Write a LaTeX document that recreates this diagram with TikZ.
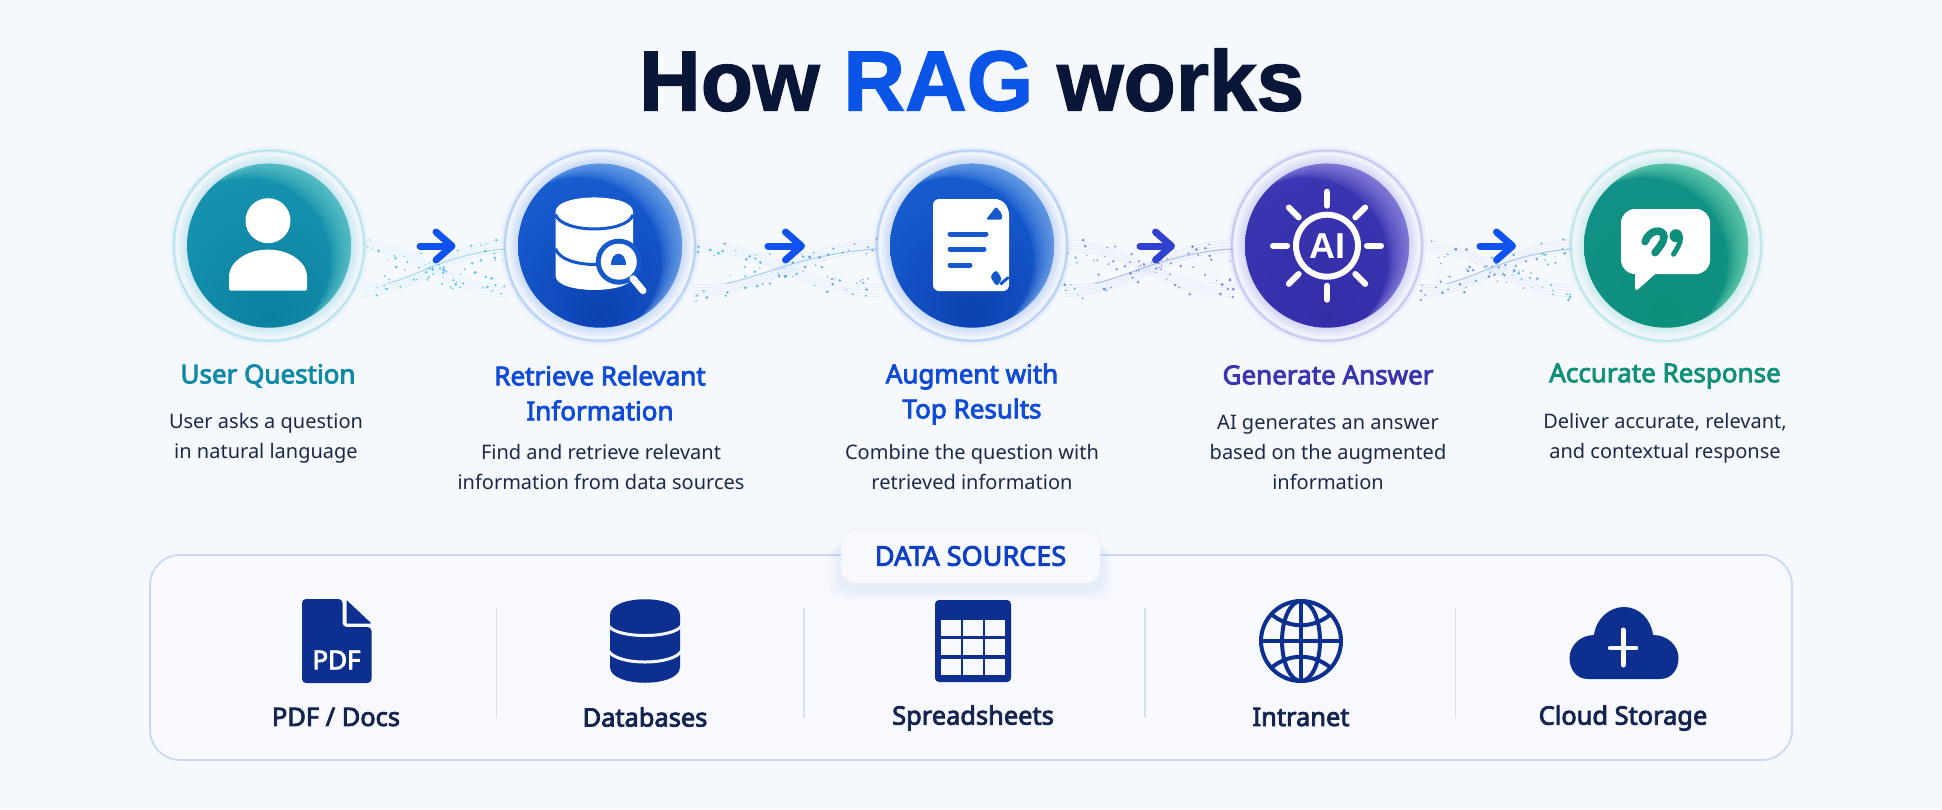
\documentclass[tikz,border=0pt]{standalone}
\usepackage{fontspec}
\setmainfont{Noto Sans}
\newfontfamily\titlefont[FakeBold=1.6]{Liberation Sans}
\newfontfamily\plainbold{Liberation Sans}
\newfontfamily\semifont[FakeBold=3.2]{Noto Sans}
\usetikzlibrary{calc,arrows.meta,backgrounds}

\definecolor{pagebg}{HTML}{F5F8FD}
\definecolor{panelbg}{HTML}{F7F9FE}
\definecolor{panelline}{HTML}{CBD8F2}
\definecolor{sepline}{HTML}{D6E0F3}
\definecolor{inkdark}{HTML}{0A1638}
\definecolor{inkdesc}{HTML}{1E2848}
\definecolor{inklabel}{HTML}{14234F}
\definecolor{ragblue}{HTML}{0A55E8}
\definecolor{navyicon}{HTML}{0D3090}
\definecolor{flowblue}{HTML}{0F52F0}
\definecolor{flowind}{HTML}{3040D0}
\definecolor{tealtxt}{HTML}{0E8AA8}
\definecolor{bluetxt}{HTML}{0F4BD8}
\definecolor{srcblue}{HTML}{0F3FC4}
\definecolor{indtxt}{HTML}{3A34B0}
\definecolor{grntxt}{HTML}{109078}
\definecolor{tealhalo}{HTML}{4FC3D6}
\definecolor{bluehalo}{HTML}{4F8EF0}
\definecolor{indhalo}{HTML}{7C74E6}
\definecolor{grnhalo}{HTML}{5CCFC2}
\definecolor{tealedge}{HTML}{7AD8D2}
\definecolor{blueedge}{HTML}{8FBDF2}
\definecolor{indedge}{HTML}{A99FEE}
\definecolor{grnedge}{HTML}{86E4BC}
\definecolor{dotteal}{HTML}{1FA8D8}
\definecolor{dotblue}{HTML}{2F6FE0}
\definecolor{dotind}{HTML}{4A48D8}
\definecolor{dotgrn}{HTML}{18A8B8}

\definecolor{t0}{HTML}{0B7F9F}\definecolor{t1}{HTML}{1590AC}\definecolor{t2}{HTML}{2CA3BC}
\definecolor{b0}{HTML}{0C41B0}\definecolor{b1}{HTML}{1558CC}\definecolor{b2}{HTML}{2676E0}
\definecolor{i0}{HTML}{352DA8}\definecolor{i1}{HTML}{3A34B0}\definecolor{i2}{HTML}{5048C4}
\definecolor{g0}{HTML}{0E8F7B}\definecolor{g1}{HTML}{119085}\definecolor{g2}{HTML}{279DB8}
\pgfdeclareradialshading{tealball}{\pgfpoint{0bp}{-22bp}}{color(0bp)=(t0);color(28bp)=(t1);color(66bp)=(t2)}
\pgfdeclareradialshading{blueball}{\pgfpoint{0bp}{-22bp}}{color(0bp)=(b0);color(28bp)=(b1);color(66bp)=(b2)}
\pgfdeclareradialshading{indball}{\pgfpoint{0bp}{-22bp}}{color(0bp)=(i0);color(30bp)=(i1);color(72bp)=(i2)}
\pgfdeclareradialshading{grnball}{\pgfpoint{0bp}{-22bp}}{color(0bp)=(g0);color(30bp)=(g1);color(72bp)=(g2)}

\begin{document}
\begin{tikzpicture}[x=1pt, y=1pt,
    ball/.style={circle, minimum size=164pt, inner sep=0pt, shade, shading=#1},
    titletext/.style={font=\titlefont\bfseries\fontsize{85.5}{90}\selectfont, text=inkdark},
    headtext/.style={font=\semifont\fontsize{26}{35}\selectfont, text=#1, align=center},
    desctext/.style={font=\fontsize{20}{30}\selectfont, text=inkdesc, align=center},
    srctext/.style={font=\semifont\fontsize{25.4}{28}\selectfont, text=inklabel},
    sepline/.style={draw=sepline, line width=1.2pt},
    flowarr/.style={-{Straight Barb[length=16pt, width=28pt, round]}, line width=7pt, line cap=round},
    panel/.style={draw=panelline, fill=panelbg, line width=1.8pt, rounded corners=30pt, minimum width=1642pt, minimum height=205pt},
    pill/.style={draw=white!70!panelline, fill=panelbg, line width=1pt, rounded corners=14pt, minimum width=259pt, minimum height=54pt, font=\semifont\fontsize{27}{28}\selectfont, text=srcblue},
    icon/.style={fill=navyicon, draw=none},
    cut/.style={draw=panelbg, line width=3pt},
    whiteicon/.style={fill=white, draw=none},
]
    \useasboundingbox (0,0) rectangle (1942,-809);

    % === TITLE ===
    \node[titletext] (title) at (971.6,-80) {How {\color{ragblue}RAG} works};

    % === STEP CIRCLES ===
    \node[ball=tealball] (user) at (269,-245.7) {};
    \node[ball=blueball] (retrieve) at (600,-245.7) {};
    \node[ball=blueball] (augment) at (972,-245.7) {};
    \node[ball=indball] (generate) at (1327,-245.7) {};
    \node[ball=grnball] (response) at (1666,-245.7) {};

    % lighter crescent on the upper right of each circle
    \foreach \nm/\col in {user/tealedge, retrieve/blueedge, augment/blueedge, generate/indedge, response/grnedge}{
        \begin{scope}
            \clip (\nm) circle (82);
            \foreach \d in {3,6,...,21}
                \fill[\col, opacity=0.13, even odd rule] (\nm) circle (83) ($(\nm)+(-\d,-0.7*\d)$) circle (83);
        \end{scope}
    }

    \begin{scope}[on background layer]
        \fill[pagebg] (0,0) rectangle (1942,-809);

        % === DATA STREAMS ===
        \pgfmathsetseed{4217}
        \foreach \a/\b/\cola/\colb in {user/retrieve/dotteal/dotteal, retrieve/augment/dotteal/dotblue, augment/generate/dotblue/dotind, generate/response/dotind/dotgrn}{
            \path ($(\a)+(92,0)$) coordinate (s0) ($(\b)+(-92,0)$) coordinate (s1);
            \foreach \k in {-6,-3,...,6}{
                \draw[\cola!50!\colb, opacity=0.09, line width=0.8pt] ($(s0)+(0,-45+\k)$) .. controls ($(s0)!0.45!(s1)+(0,-45+0.4*\k)$) and ($(s0)!0.55!(s1)+(0,-2+\k)$) .. ($(s1)+(0,\k)$);
                \draw[\cola!50!\colb, opacity=0.07, line width=0.8pt] ($(s0)+(0,\k)$) .. controls ($(s0)!0.45!(s1)+(0,-2+0.4*\k)$) and ($(s0)!0.55!(s1)+(0,-45+\k)$) .. ($(s1)+(0,-45+\k)$);
            }
            \draw[\cola!50!\colb, opacity=0.3, line width=1.2pt] ($(s0)!0.18!(s1)+(0,-38)$) .. controls ($(s0)!0.45!(s1)+(0,-26)$) and ($(s0)!0.6!(s1)+(0,-8)$) .. ($(s1)+(0,-3)$);
            \foreach \i in {1,...,75}{
                \pgfmathsetmacro\t{rnd}
                \pgfmathsetmacro\sgn{rnd<0.5 ? -1 : 1}
                \pgfmathsetmacro\yy{-24+\sgn*19*cos(180*\t)+24*(rnd-0.5)}
                \pgfmathsetmacro\rr{0.6+1.0*rnd}
                \pgfmathtruncatemacro\p{100*(1-\t)}
                \fill[\cola!\p!\colb, opacity=0.65] ($(s0)!\t!(s1)+(0,\yy)$) circle (\rr);
            }
        }

        % === HALOS ===
        \foreach \nm/\col in {user/tealhalo, retrieve/bluehalo, augment/bluehalo, generate/indhalo, response/grnhalo}{
            \foreach \r in {100,98,96}
                \fill[\col, opacity=0.03] (\nm) circle (\r);
            \fill[pagebg, opacity=0.8] (\nm) circle (95);
            \foreach \w/\o in {4/0.07, 2.6/0.10, 1.3/0.20}
                \draw[\col, opacity=\o, line width=\w pt] (\nm) circle (95);
            \foreach \r in {91,89,...,83}
                \fill[\col, opacity=0.05] (\nm) circle (\r);
        }
    \end{scope}

    % === STEP ICONS ===
    \begin{scope}[shift={(user)}]
        \fill[whiteicon] (-1,25) circle (22.5);
        \fill[whiteicon, rounded corners=2pt] (-40,-45) -- (-40,-33) .. controls (-40,-15) and (-20,-4) .. (-1,-4) .. controls (18,-4) and (38,-15) .. (38,-33) -- (38,-45) -- cycle;
    \end{scope}

    \begin{scope}[shift={(retrieve)}]
        \fill[whiteicon] (-44.4,34) -- (-44.4,-30) .. controls (-44.4,-49) and (33,-49) .. (33,-30) -- (33,34) .. controls (33,53) and (-44.4,53) .. (-44.4,34) -- cycle;
        \draw[b1, line width=3pt] (-44.4,31) .. controls (-38,12) and (27,12) .. (33,31);
        \draw[b1, line width=3pt] (-44.4,-3) .. controls (-38,-24) and (27,-24) .. (33,-3);
        \fill[b1] (18.8,-16) circle (23);
        \fill[whiteicon] (18.8,-16) circle (18);
        \draw[white, line width=7pt, line cap=round] (33,-33) -- (43,-45);
        \fill[b1] (10.5,-19.5) .. controls (10.5,-4) and (25.5,-4) .. (25.5,-19.5) -- cycle;
    \end{scope}

    \begin{scope}[shift={(augment)}]
        \fill[whiteicon, rounded corners=6pt] (-39,46.7) -- (29,46.7) -- (37,37) -- (37,-45.3) -- (-39,-45.3) -- cycle;
        \draw[b1, line width=5pt, line cap=round] (-22,11.7) -- (14,11.7);
        \draw[b1, line width=5pt, line cap=round] (-22,-3.3) -- (12,-3.3);
        \draw[b1, line width=5pt, line cap=round] (-22,-19.3) -- (-2,-19.3);
        \fill[b1, rounded corners=2pt] (14,26) -- (30,26) -- (30,32) -- (24,39) -- cycle;
        \fill[b1, rounded corners=3pt] (18,-31) -- (24,-24) -- (30,-33) -- (25,-41) -- cycle;
        \draw[b1, line width=3pt, line cap=round] (29,-38) -- (36,-32);
    \end{scope}

    \begin{scope}[shift={(generate)}]
        \draw[white, line width=6pt] (0,0) circle (31);
        \node[font=\plainbold\bfseries\fontsize{36}{36}\selectfont, text=white] (aimark) at (0,0) {AI};
        \foreach \ang in {0,45,...,315}
            \draw[white, line width=6pt, line cap=round] (\ang:40) -- (\ang:54);
    \end{scope}

    \begin{scope}[shift={(response)}]
        \fill[whiteicon, rounded corners=14pt] (-45,36.7) rectangle (44,-28.3);
        \fill[whiteicon, rounded corners=1.5pt] (-31,-20) -- (-31,-44.5) -- (-29,-44.5) -- (-6,-24) -- cycle;
        \draw[g0, line width=7.5pt, line cap=round] (-21,4) .. controls (-17,16) and (-3,18) .. (-2,9) .. controls (-2,3) and (-8,-3) .. (-11,-7);
        \fill[g0] (10,10) circle (6.5);
        \draw[g0, line width=5pt, line cap=round] (14.5,9) .. controls (15,3) and (11,-3) .. (7.5,-8.5);
    \end{scope}

    % === STEP TEXT ===
    \node[headtext=tealtxt] (userhead) at (268,-376) {User Question};
    \node[desctext] (userdesc) at (266,-438) {User asks a question\\in natural language};

    \node[headtext=bluetxt] (retrievehead) at (600,-393) {Retrieve Relevant\\Information};
    \node[desctext] (retrievedesc) at (601,-467) {Find and retrieve relevant\\information from data sources};

    \node[headtext=bluetxt] (augmenthead) at (972,-394) {Augment with\\Top Results};
    \node[desctext] (augmentdesc) at (972,-467) {Combine the question with\\retrieved information};

    \node[headtext=indtxt] (generatehead) at (1328,-375) {Generate Answer};
    \node[desctext] (generatedesc) at (1328,-452) {AI generates an answer\\based on the augmented\\information};

    \node[headtext=grntxt] (responsehead) at (1665,-376) {Accurate Response};
    \node[desctext] (responsedesc) at (1665,-438) {Deliver accurate, relevant,\\and contextual response};

    % === ARROWS ===
    \coordinate (flowa0) at (420,-246); \coordinate (flowa1) at (455.5,-246);
    \coordinate (flowb0) at (768,-246); \coordinate (flowb1) at (805,-246);
    \coordinate (flowc0) at (1140,-246); \coordinate (flowc1) at (1175,-246);
    \coordinate (flowd0) at (1480,-246); \coordinate (flowd1) at (1516,-246);
    \draw[flowarr, flowblue] (flowa0) -- (flowa1);
    \draw[flowarr, flowblue] (flowb0) -- (flowb1);
    \draw[flowarr, flowind] (flowc0) -- (flowc1);
    \draw[flowarr, flowblue] (flowd0) -- (flowd1);

    % === DATA SOURCES PANEL ===
    \node[panel] (panel) at (971,-657.5) {};
    \coordinate (pillc) at (970.5,-556);
    \begin{scope}[shift={(pillc)}]
        \foreach \g in {2,4,...,12}
            \fill[bluehalo, opacity=0.015, rounded corners=16pt] (-130-\g,22-\g) rectangle (130+\g,-32-\g);
    \end{scope}
    \node[pill] (srclabel) at (pillc) {DATA SOURCES};

    % separators
    \foreach \sx/\nm in {496.5/sepa, 804/sepb, 1145/sepc, 1455.6/sepd}{
        \coordinate (\nm top) at (\sx,-608);
        \coordinate (\nm bot) at (\sx,-718);
        \draw[sepline] (\nm top) -- (\nm bot);
    }

    % === SOURCE ICONS ===
    \coordinate (pdficon) at (336.5,-641);
    \begin{scope}[shift={(pdficon)}]
        \fill[icon, rounded corners=4pt] (-34.5,42) -- (6,42) -- (6,14) -- (35,14) -- (35,-42) -- (-34.5,-42) -- cycle;
        \fill[icon, rounded corners=1pt] (10,41) -- (35,17.5) -- (10,17.5) -- cycle;
        \node[font=\semifont\fontsize{26}{26}\selectfont, text=white] (pdfmark) at (0,-19) {PDF};
    \end{scope}

    \coordinate (dbicon) at (645,-641);
    \begin{scope}[shift={(dbicon)}]
        \fill[icon] (-35,26) -- (-35,-26) .. controls (-35,-47) and (35,-47) .. (35,-26) -- (35,26) .. controls (35,47) and (-35,47) .. (-35,26) -- cycle;
        \draw[cut] (-37,16) .. controls (-30,2) and (30,2) .. (37,16);
        \draw[cut] (-37,-9) .. controls (-30,-25) and (30,-25) .. (37,-9);
    \end{scope}

    \coordinate (sheeticon) at (973,-641);
    \begin{scope}[shift={(sheeticon)}]
        \fill[icon, rounded corners=4pt] (-38,41) rectangle (38,-41);
        \foreach \cx in {-22.2,0,22.2}
            \foreach \cy in {13.2,-6,-26}
                \fill[panelbg] ($(\cx,\cy)+(-9.8,8)$) rectangle ($(\cx,\cy)+(9.8,-8)$);
    \end{scope}

    \coordinate (globeicon) at (1301,-641);
    \begin{scope}[shift={(globeicon)}, draw=navyicon, line width=4pt]
        \draw (0,0) circle (40);
        \draw (0,0) ellipse (19 and 40);
        \draw (0,40) -- (0,-40);
        \draw (-40,0) -- (40,0);
        \draw (-30,27) .. controls (-12,12) and (12,12) .. (30,27);
        \draw (-30,-27) .. controls (-12,-12) and (12,-12) .. (30,-27);
    \end{scope}

    \coordinate (cloudicon) at (1624,-643);
    \begin{scope}[shift={(cloudicon)}]
        \fill[icon] (-36,-36) .. controls (-48,-36) and (-54.5,-26) .. (-54.5,-15) .. controls (-54.5,-3) and (-44,8) .. (-30,8) .. controls (-28,24) and (-15,36) .. (0,36) .. controls (15,36) and (27,24) .. (29,8) .. controls (44,8) and (54.5,-3) .. (54.5,-15) .. controls (54.5,-26) and (48,-36) .. (36,-36) -- cycle;
        \draw[white, line width=5pt, line cap=round] (-1,13) -- (-1,-22);
        \draw[white, line width=4.5pt, line cap=round] (-14,-5) -- (12,-5);
    \end{scope}

    % === SOURCE TEXT ===
    \node[srctext] (pdftext) at (336,-717) {PDF / Docs};
    \node[srctext] (dbtext) at (645,-717) {Databases};
    \node[srctext] (sheettext) at (973,-718) {Spreadsheets};
    \node[srctext] (globetext) at (1301,-717) {Intranet};
    \node[srctext] (cloudtext) at (1623,-718) {Cloud Storage};
\end{tikzpicture}
\end{document}
